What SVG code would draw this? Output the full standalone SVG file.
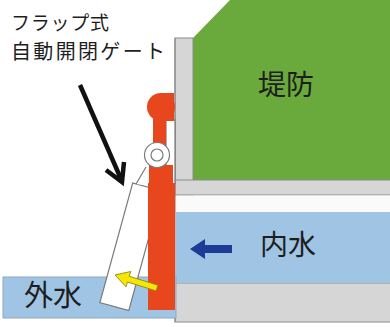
<svg xmlns="http://www.w3.org/2000/svg" width="390" height="327" viewBox="0 0 390 327">
  <style>
    .jp { font-family: "Noto Sans CJK JP", "Noto Sans", sans-serif; fill: #1e1e1e; }
    .water { fill: #a0c4e4; }
    .concrete { fill: #d6d6d6; stroke: #8c8c8c; stroke-width: 1; }
    .gate { fill: #e8461c; }
    .outline { fill: #ffffff; stroke: #7a7a7a; stroke-width: 1.2; }
  </style>

  <rect width="390" height="327" fill="#ffffff"/>

  <!-- embankment -->
  <g id="embankment">
    <polygon points="193,38 230,0 390,0 390,180 193,180" fill="#6aaa3c"/>
    <text class="jp" x="286" y="95" font-size="28" text-anchor="middle">堤防</text>
  </g>

  <!-- concrete wall (L-shape) and culvert -->
  <g id="wall">
    <rect class="concrete" x="175" y="38" width="18" height="157"/>
    <rect class="concrete" x="175" y="180" width="216" height="15"/>
    <rect x="176" y="195.5" width="214" height="16.5" fill="#fafafa"/>
    <rect class="concrete" x="175" y="283" width="216" height="39"/>
    <line x1="175" y1="38" x2="175" y2="322" stroke="#8c8c8c" stroke-width="1.2"/>
  </g>

  <!-- inner water -->
  <g id="inner-water">
    <rect class="water" x="176" y="212" width="214" height="71"/>
    <polygon points="190,249 205,239 205,245 232,245 232,253 205,253 205,259" fill="#1e3c96"/>
    <text class="jp" x="260" y="255" font-size="28">内水</text>
  </g>

  <!-- outer water -->
  <g id="outer-water">
    <rect class="water" x="3" y="277" width="173" height="41" stroke="#8fa8bd" stroke-width="1"/>
    <text class="jp" x="24" y="306" font-size="29">外水</text>
  </g>

  <!-- flap gate -->
  <g id="flap-gate">
    <rect class="outline" x="0" y="0" width="30" height="124" transform="translate(132.7,183) rotate(15.35)"/>
    <polygon points="136,184 146,167 152,167 152,186" fill="#ffffff"/>
    <line x1="136" y1="184" x2="146" y2="167" stroke="#7a7a7a" stroke-width="1.2"/>
    <rect class="outline" x="166" y="120" width="9" height="64"/>
    <!-- red post -->
    <circle class="gate" cx="161" cy="107" r="14"/>
    <rect class="gate" x="161" y="93" width="13" height="28"/>
    <rect class="gate" x="153" y="115" width="13" height="55"/>
    <rect class="gate" x="149" y="165" width="24" height="20"/>
    <rect class="gate" x="148" y="183" width="27" height="127"/>
    <!-- hinge -->
    <circle class="outline" cx="157" cy="155" r="12.5"/>
    <circle class="outline" cx="157" cy="155" r="6"/>
    <!-- yellow arrow -->
    <polygon points="0,0 14,-8 14,-3 44,-3 44,3 14,3 14,8" fill="#f6e600" stroke="#8a8420" stroke-width="0.8" transform="translate(115,275) rotate(17.2)"/>
  </g>

  <!-- label -->
  <g id="label">
    <text class="jp" x="11" y="30" font-size="19" textLength="98" lengthAdjust="spacing">フラップ式</text>
    <text class="jp" x="11" y="59" font-size="20" textLength="154" lengthAdjust="spacing">自動開閉ゲート</text>
  </g>

  <!-- connectors -->
  <g id="connectors" fill="none" stroke="#111111" stroke-width="4.5" stroke-linecap="butt" stroke-linejoin="miter">
    <line x1="80" y1="85" x2="121" y2="179"/>
    <polyline points="106,170 122,182 124,162"/>
  </g>
</svg>
